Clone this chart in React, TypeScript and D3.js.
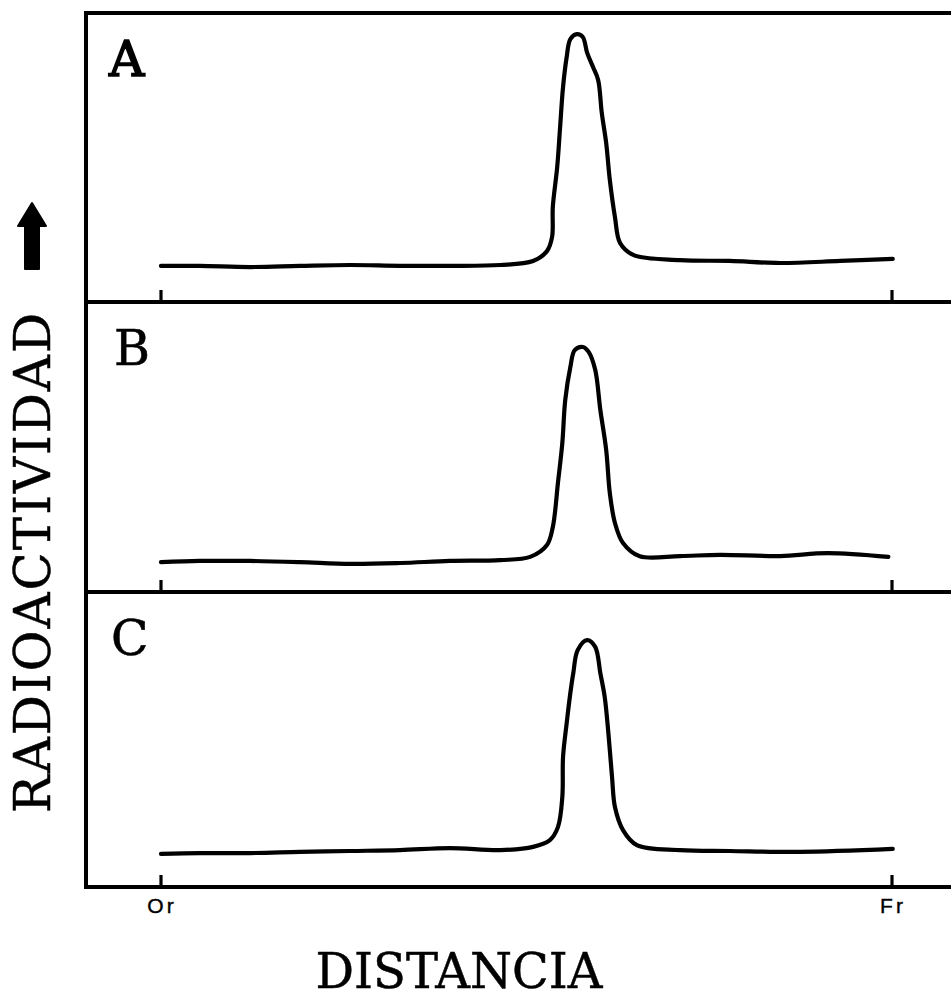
import React from "react";
import * as d3 from "d3";

// Distance along the strip, from origin (Or = 0) to front (Fr = 100)
const distanceA = [0, 5.3, 12.2, 19.0, 25.9, 32.7, 39.5, 46.4, 50.9, 52.8, 53.5, 53.6, 54.2, 54.6, 55.0, 55.5, 56.0, 56.9, 57.7, 58.3, 59.1, 59.8, 60.3, 60.9, 61.4, 62.1, 62.8, 64.6, 71.0, 77.8, 84.7, 92.9, 100.1];
const activityA = [12.5, 12.5, 12.1, 12.5, 12.8, 12.5, 12.5, 12.8, 14.2, 17.6, 22.5, 32.9, 46.7, 60.6, 74.4, 84.8, 91.0, 92.7, 91.7, 86.2, 81.3, 76.8, 65.4, 55.0, 42.2, 29.4, 20.4, 16.3, 14.5, 14.2, 13.5, 14.2, 14.9];

const distanceB = [0, 5.3, 12.2, 19.0, 25.9, 32.7, 39.5, 46.4, 50.5, 52.8, 53.6, 54.3, 54.9, 55.3, 56.0, 56.6, 57.7, 58.5, 59.4, 60.1, 60.9, 61.4, 62.1, 63.2, 65.5, 71.0, 76.5, 84.7, 91.2, 99.5];
const activityB = [10.3, 10.7, 10.7, 10.3, 9.7, 10.0, 10.7, 11.0, 12.1, 16.2, 22.4, 37.6, 51.4, 66.2, 77.6, 83.4, 84.5, 82.8, 76.6, 62.8, 49.0, 34.1, 23.8, 16.9, 12.3, 12.4, 12.8, 12.4, 13.4, 12.1];

const distanceC = [0, 5.3, 12.2, 19.0, 25.9, 32.7, 39.5, 46.4, 50.9, 53.2, 54.3, 54.9, 55.0, 55.5, 56.0, 56.4, 57.0, 58.3, 59.4, 60.1, 60.7, 61.2, 61.7, 62.1, 63.2, 65.1, 71.0, 77.8, 87.4, 100.1];
const activityC = [11.2, 11.5, 11.5, 11.9, 12.2, 12.5, 13.2, 12.5, 13.6, 15.9, 20.3, 30.5, 44.1, 55.6, 65.8, 72.5, 80.3, 83.7, 81.4, 72.5, 64.4, 52.2, 37.3, 27.1, 19.3, 14.2, 12.5, 12.2, 11.9, 12.9];

const panelLabels = ["A", "B", "C"];
const tickValues = [0, 100];
const tickLabels = ["Or", "Fr"];
const yAxisTitle = "RADIOACTIVIDAD";
const xAxisTitle = "DISTANCIA";

const W = 951;
const H = 1000;
const frameLeft = 86;
const frameEdges = [13, 302, 592, 887]; // top of A, A/B, B/C, bottom of C

const series = [
  { dist: distanceA, act: activityA },
  { dist: distanceB, act: activityB },
  { dist: distanceC, act: activityC },
];

const x = d3.scaleLinear().domain([0, 100]).range([161, 892]);

const serif = "'DejaVu Serif', serif";
const sans = "'Liberation Sans', Arial, sans-serif";

export default function App() {
  return (
    <svg
      width={W}
      height={H}
      viewBox={`0 0 ${W} ${H}`}
      style={{ position: "absolute", left: 0, top: 0, background: "#fff" }}
    >
      <rect x={0} y={0} width={W} height={H} fill="#fff" />

      {/* frame: left spine and panel separators */}
      <line x1={frameLeft} x2={frameLeft} y1={frameEdges[0] - 2} y2={frameEdges[3] + 2} stroke="#000" strokeWidth={4} />
      {frameEdges.map((yy, i) => (
        <line key={`h${i}`} x1={frameLeft} x2={W} y1={yy} y2={yy} stroke="#000" strokeWidth={4} />
      ))}

      {series.map((s, i) => {
        const top = frameEdges[i];
        const bottom = frameEdges[i + 1];
        const y = d3.scaleLinear().domain([0, 100]).range([bottom, top]);
        const pts = s.dist.map((d, k) => [d, s.act[k]] as [number, number]);
        const line = d3
          .line<[number, number]>()
          .x((p) => x(p[0]))
          .y((p) => y(p[1]))
          .curve(d3.curveCatmullRom.alpha(0.5));
        return (
          <g key={`p${i}`}>
            <path d={line(pts) || ""} fill="none" stroke="#000" strokeWidth={4.2} strokeLinejoin="round" strokeLinecap="round" />
            {tickValues.map((t, k) => (
              <line key={`t${k}`} x1={x(t)} x2={x(t)} y1={bottom} y2={bottom - 12} stroke="#000" strokeWidth={3.2} />
            ))}
            <text
              x={i === 1 ? 114 : i === 2 ? 111 : 109}
              y={top + 63}
              fontFamily={serif}
              fontSize={49}
              fill="#000"
              stroke="#000"
              strokeWidth={i === 0 ? 1.6 : 0.6}
            >
              {panelLabels[i]}
            </text>
          </g>
        );
      })}

      {/* distance labels under the bottom axis */}
      {tickValues.map((t, k) => (
        <text
          key={`tl${k}`}
          x={x(t) + 1}
          y={913}
          textAnchor="middle"
          fontFamily={sans}
          fontSize={21}
          letterSpacing={3}
          fill="#000"
          stroke="#000"
          strokeWidth={0.4}
        >
          {tickLabels[k]}
        </text>
      ))}

      {/* upward arrow above the vertical title */}
      <path
        d="M32,203 L46,226 L39,226 L39,269 L25,269 L25,226 L18,226 Z"
        fill="#000"
        stroke="#000"
        strokeWidth={2}
        strokeLinejoin="round"
      />

      <text
        transform="translate(50,563) rotate(-90)"
        textAnchor="middle"
        fontFamily={serif}
        fontSize={50}
        textLength={500}
        lengthAdjust="spacing"
        fill="#000"
        stroke="#000"
        strokeWidth={0.5}
      >
        {yAxisTitle}
      </text>

      <text
        x={459}
        y={988}
        textAnchor="middle"
        fontFamily={serif}
        fontSize={48}
        textLength={287}
        lengthAdjust="spacingAndGlyphs"
        fill="#000"
        stroke="#000"
        strokeWidth={0.5}
      >
        {xAxisTitle}
      </text>
    </svg>
  );
}
